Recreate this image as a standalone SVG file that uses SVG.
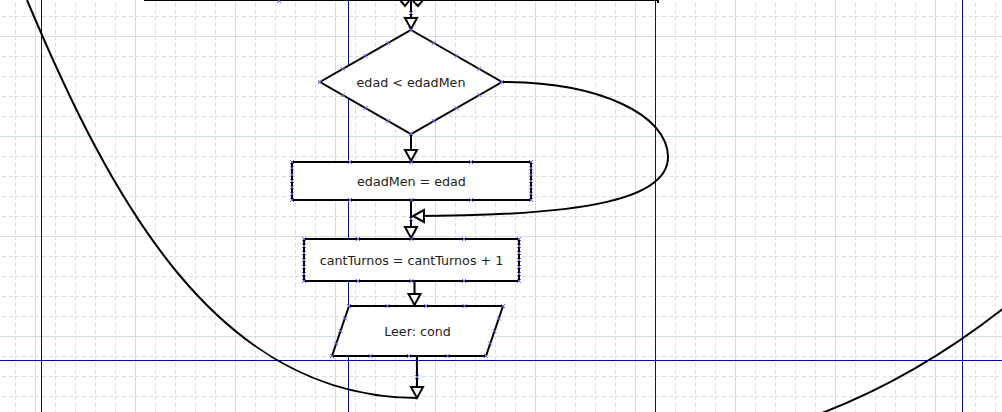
<svg xmlns="http://www.w3.org/2000/svg" width="1002" height="412" viewBox="0 0 1002 412">
<style>
.sh{fill:#fff;stroke:#000;stroke-width:2}
.cn{fill:none;stroke:#000;stroke-width:2}
.tx{font-family:"DejaVu Sans","Liberation Sans",sans-serif;font-size:12.7px;fill:#222;text-anchor:middle}
.pg{stroke:#0a0aa0;stroke-width:1}
.xm{fill:none;stroke:#6262f0;stroke-width:1}
</style>
<defs>
<pattern id="minor" patternUnits="userSpaceOnUse" x="15" y="16" width="20" height="20">
<path d="M0,0.5H20M0.5,0V20" fill="none" stroke="#d3e3e1" stroke-width="1" stroke-dasharray="4,3"/>
</pattern>
<pattern id="major" patternUnits="userSpaceOnUse" x="35" y="36" width="100" height="100">
<path d="M0,0.5H100M0.5,0V100" fill="none" stroke="#cfe0de" stroke-width="1"/>
</pattern>
<marker id="arr" markerUnits="userSpaceOnUse" markerWidth="14" markerHeight="14" refX="11" refY="6" orient="auto" overflow="visible">
<path d="M0,0L11,6L0,12Z" fill="#fff" stroke="#000" stroke-width="2" stroke-linejoin="miter"/>
</marker>
<path id="x" class="xm" d="M-2,-2L2,2M-2,2L2,-2"/>
</defs>
<rect width="1002" height="412" fill="#fff"/>
<rect width="1002" height="412" fill="url(#minor)"/>
<rect width="1002" height="412" fill="url(#major)"/>
<g id="page-lines">
<path class="pg" d="M41.5,0V412M348.5,0V412M655.5,0V412M962.5,0V412M0,360.5H1002"/>
</g>
<g id="connectors">
<path class="cn" d="M144,0H658M658,0V3"/>
<path class="cn" d="M400,0L405,6L409,1M413,1L418,6L423,0"/>
<path class="cn" d="M411,0V29" marker-end="url(#arr)"/>
<path class="cn" d="M411,135V161" marker-end="url(#arr)"/>
<path class="cn" d="M411,201V238" marker-end="url(#arr)"/>
<path class="cn" d="M502,82C600,82 668,115 668,157C668,198 590,216 413,216" marker-end="url(#arr)"/>
<path class="cn" d="M414.5,281V305" marker-end="url(#arr)"/>
<path class="cn" d="M417,356V398" marker-end="url(#arr)"/>
<path class="cn" d="M27,0C111,200 217,398 417,398"/>
<path class="cn" d="M1004,308Q916,377 822,413"/>
<use href="#x" x="279" y="1"/>
<use href="#x" x="411" y="13"/>
<use href="#x" x="411" y="219"/>
<use href="#x" x="417" y="377"/>
</g>
<g id="node-decision">
<polygon class="sh" points="411,30 502,82 411,134 320,82"/>
<text class="tx" x="411" y="86.5">edad &lt; edadMen</text>
<use href="#x" x="411" y="30"/><use href="#x" x="502" y="82"/><use href="#x" x="411" y="134"/><use href="#x" x="320" y="82"/>
<use href="#x" x="342.75" y="69"/><use href="#x" x="365.5" y="56"/><use href="#x" x="388.25" y="43"/>
<use href="#x" x="433.75" y="43"/><use href="#x" x="456.5" y="56"/><use href="#x" x="479.25" y="69"/>
<use href="#x" x="479.25" y="95"/><use href="#x" x="456.5" y="108"/><use href="#x" x="433.75" y="121"/>
<use href="#x" x="388.25" y="121"/><use href="#x" x="365.5" y="108"/><use href="#x" x="342.75" y="95"/>
</g>
<g id="node-assign">
<rect class="sh" x="292" y="162" width="239" height="38"/>
<text class="tx" x="411.5" y="185.5">edadMen = edad</text>
<use href="#x" x="292" y="162"/><use href="#x" x="350" y="162"/><use href="#x" x="411.5" y="162"/><use href="#x" x="471" y="162"/><use href="#x" x="531" y="162"/>
<use href="#x" x="292" y="200"/><use href="#x" x="350" y="200"/><use href="#x" x="411.5" y="200"/><use href="#x" x="471" y="200"/><use href="#x" x="531" y="200"/>
<use href="#x" x="292" y="168.3"/><use href="#x" x="292" y="174.7"/><use href="#x" x="292" y="181"/><use href="#x" x="292" y="187.3"/><use href="#x" x="292" y="193.7"/>
<use href="#x" x="531" y="168.3"/><use href="#x" x="531" y="174.7"/><use href="#x" x="531" y="181"/><use href="#x" x="531" y="187.3"/><use href="#x" x="531" y="193.7"/>
</g>
<g id="node-count">
<rect class="sh" x="304" y="239" width="215" height="42"/>
<text class="tx" x="411.5" y="264.5">cantTurnos = cantTurnos + 1</text>
<use href="#x" x="304" y="239"/><use href="#x" x="358" y="239"/><use href="#x" x="411.5" y="239"/><use href="#x" x="464" y="239"/><use href="#x" x="519" y="239"/>
<use href="#x" x="304" y="281"/><use href="#x" x="358" y="281"/><use href="#x" x="411.5" y="281"/><use href="#x" x="464" y="281"/><use href="#x" x="519" y="281"/>
<use href="#x" x="304" y="246"/><use href="#x" x="304" y="253"/><use href="#x" x="304" y="260"/><use href="#x" x="304" y="267"/><use href="#x" x="304" y="274"/>
<use href="#x" x="519" y="246"/><use href="#x" x="519" y="253"/><use href="#x" x="519" y="260"/><use href="#x" x="519" y="267"/><use href="#x" x="519" y="274"/>
</g>
<g id="node-input">
<polygon class="sh" points="349,306 503,306 486,356 332,356"/>
<text class="tx" x="417.5" y="335.5">Leer: cond</text>
<use href="#x" x="349" y="306"/><use href="#x" x="387.5" y="306"/><use href="#x" x="426" y="306"/><use href="#x" x="464.5" y="306"/><use href="#x" x="503" y="306"/>
<use href="#x" x="332" y="356"/><use href="#x" x="370.5" y="356"/><use href="#x" x="409" y="356"/><use href="#x" x="447.5" y="356"/><use href="#x" x="486" y="356"/>
<use href="#x" x="345" y="318.5"/><use href="#x" x="340.5" y="331"/><use href="#x" x="336" y="343.5"/>
<use href="#x" x="499" y="318.5"/><use href="#x" x="494.5" y="331"/><use href="#x" x="490" y="343.5"/>
</g>
</svg>
